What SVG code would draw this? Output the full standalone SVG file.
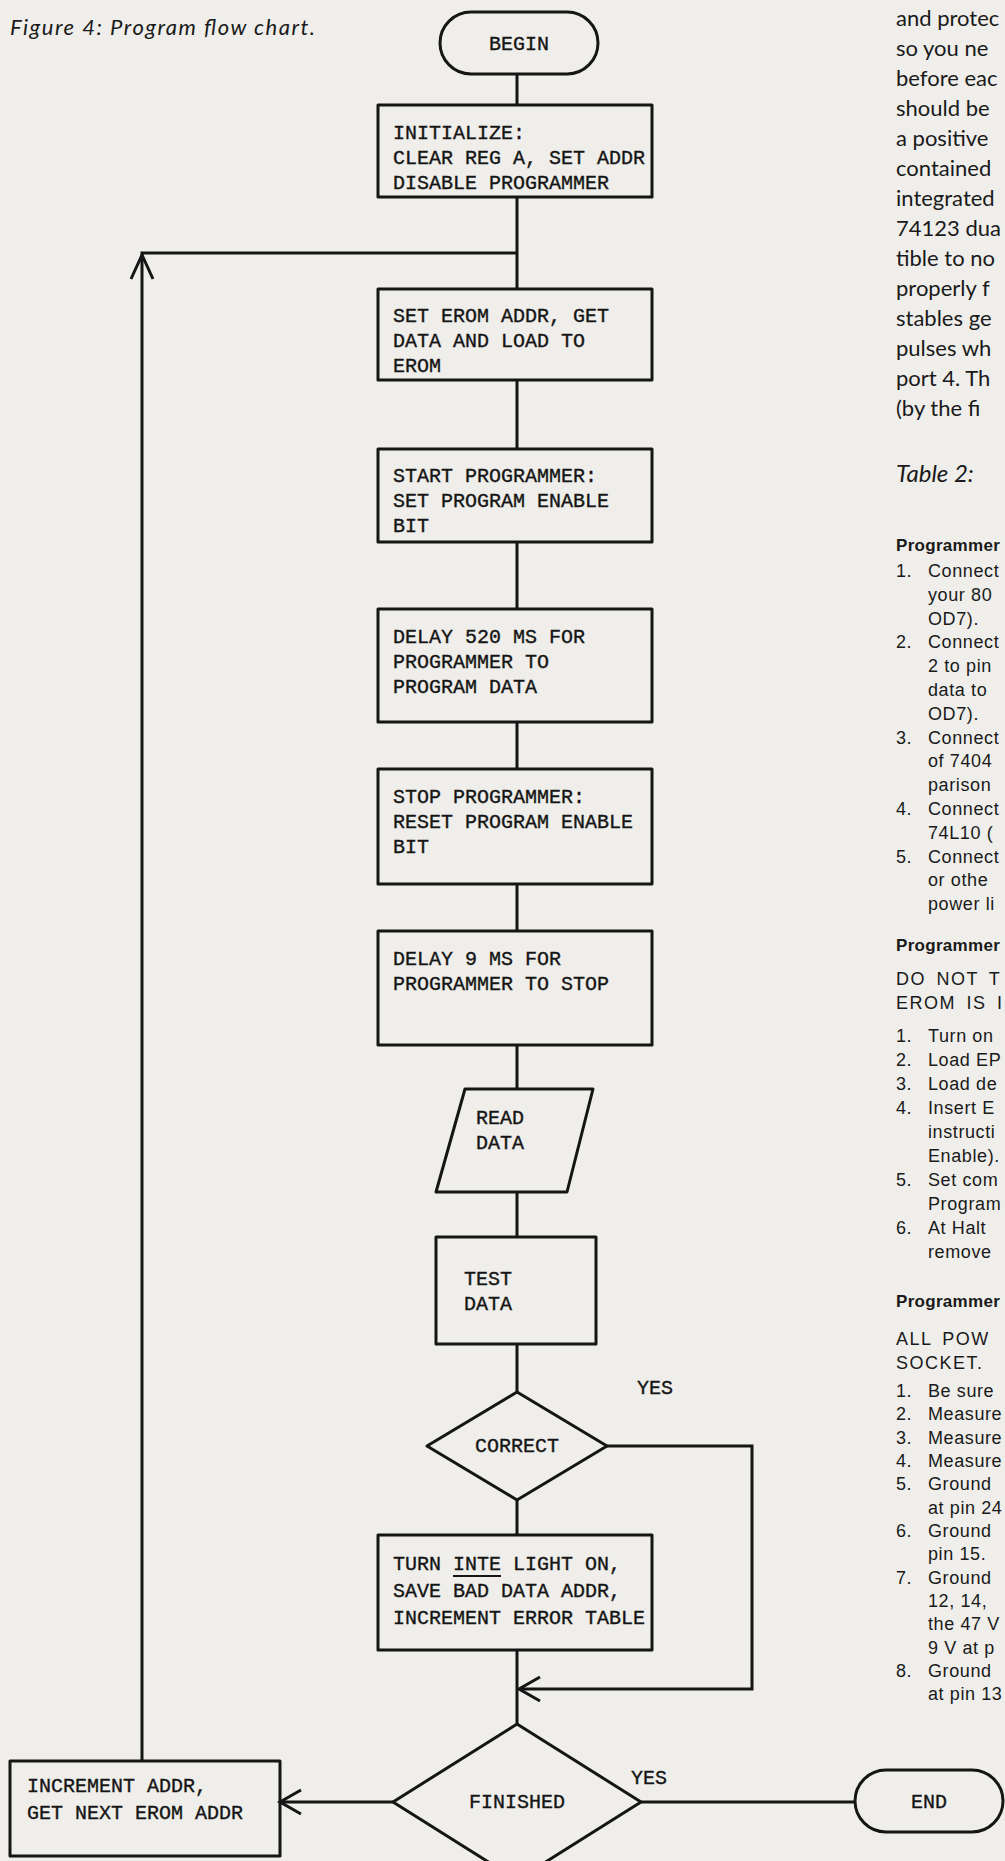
<svg xmlns="http://www.w3.org/2000/svg" width="1005" height="1861" viewBox="0 0 1005 1861">
<style>
.bg{fill:#efeeea}
.shape{fill:none;stroke:#151515;stroke-width:3;stroke-linejoin:round}
.conn{fill:none;stroke:#151515;stroke-width:3}
.arr{fill:none;stroke:#151515;stroke-width:3;stroke-linejoin:miter}
.t{font-family:"Liberation Mono",monospace;font-size:20px;fill:#151515;stroke:#151515;stroke-width:0.35px}
.c{text-anchor:middle}
.cap{font-family:Lato,"Open Sans",sans-serif;font-style:italic;font-size:22px;fill:#1a1a1a}
.para{font-family:Lato,"Open Sans",sans-serif;font-size:22px;fill:#1a1a1a}
.hd{font-family:"Liberation Sans",Arial,sans-serif;font-weight:bold;font-size:17px;fill:#1a1a1a;letter-spacing:0.3px}
.li{font-family:"Liberation Sans",Arial,sans-serif;font-size:18px;fill:#1a1a1a;letter-spacing:0.6px}
.big{font-family:"Liberation Sans",Arial,sans-serif;font-size:18px;fill:#1a1a1a;letter-spacing:1.5px;word-spacing:4px}
</style>
<rect class="bg" x="0" y="0" width="1005" height="1861"/>

<text class="cap" x="10" y="35" textLength="305" lengthAdjust="spacing">Figure 4: Program flow chart.</text>

<g id="connectors">
  <line class="conn" x1="517" y1="74" x2="517" y2="105"/>
  <line class="conn" x1="517" y1="197" x2="517" y2="289"/>
  <polyline class="conn" points="142,1761 142,253 517,253"/>
  <polyline class="arr" points="131,279 142,255 153,279"/>
  <line class="conn" x1="517" y1="380" x2="517" y2="449"/>
  <line class="conn" x1="517" y1="542" x2="517" y2="609"/>
  <line class="conn" x1="517" y1="722" x2="517" y2="769"/>
  <line class="conn" x1="517" y1="884" x2="517" y2="931"/>
  <line class="conn" x1="517" y1="1045" x2="517" y2="1089"/>
  <line class="conn" x1="517" y1="1192" x2="517" y2="1237"/>
  <line class="conn" x1="517" y1="1344" x2="517" y2="1392"/>
  <line class="conn" x1="517" y1="1500" x2="517" y2="1535"/>
  <polyline class="conn" points="607,1446 752,1446 752,1689 519,1689"/>
  <polyline class="arr" points="540,1677 519,1689 540,1701"/>
  <line class="conn" x1="517" y1="1650" x2="517" y2="1724"/>
  <line class="conn" x1="393" y1="1802" x2="280" y2="1802"/>
  <polyline class="arr" points="301,1790 280,1802 301,1814"/>
  <line class="conn" x1="641" y1="1802" x2="855" y2="1802"/>
  <text class="t" x="637" y="1394">YES</text>
  <text class="t" x="631" y="1784">YES</text>
</g>

<g id="begin">
  <rect class="shape" x="440" y="12" width="158" height="62" rx="31"/>
  <text class="t c" x="519" y="50">BEGIN</text>
</g>

<g id="initialize">
  <rect class="shape" x="378" y="105" width="274" height="92"/>
  <text class="t" x="393" y="139">INITIALIZE:</text>
  <text class="t" x="393" y="164">CLEAR REG A, SET ADDR</text>
  <text class="t" x="393" y="189">DISABLE PROGRAMMER</text>
</g>

<g id="set-erom">
  <rect class="shape" x="378" y="289" width="274" height="91"/>
  <text class="t" x="393" y="322">SET EROM ADDR, GET</text>
  <text class="t" x="393" y="347">DATA AND LOAD TO</text>
  <text class="t" x="393" y="372">EROM</text>
</g>

<g id="start-programmer">
  <rect class="shape" x="378" y="449" width="274" height="93"/>
  <text class="t" x="393" y="482">START PROGRAMMER:</text>
  <text class="t" x="393" y="507">SET PROGRAM ENABLE</text>
  <text class="t" x="393" y="532">BIT</text>
</g>

<g id="delay-520">
  <rect class="shape" x="378" y="609" width="274" height="113"/>
  <text class="t" x="393" y="643">DELAY 520 MS FOR</text>
  <text class="t" x="393" y="668">PROGRAMMER TO</text>
  <text class="t" x="393" y="693">PROGRAM DATA</text>
</g>

<g id="stop-programmer">
  <rect class="shape" x="378" y="769" width="274" height="115"/>
  <text class="t" x="393" y="803">STOP PROGRAMMER:</text>
  <text class="t" x="393" y="828">RESET PROGRAM ENABLE</text>
  <text class="t" x="393" y="853">BIT</text>
</g>

<g id="delay-9">
  <rect class="shape" x="378" y="931" width="274" height="114"/>
  <text class="t" x="393" y="965">DELAY 9 MS FOR</text>
  <text class="t" x="393" y="990">PROGRAMMER TO STOP</text>
</g>

<g id="read-data">
  <polygon class="shape" points="465,1089 593,1089 567,1192 436,1192"/>
  <text class="t" x="476" y="1124">READ</text>
  <text class="t" x="476" y="1149">DATA</text>
</g>

<g id="test-data">
  <rect class="shape" x="436" y="1237" width="160" height="107"/>
  <text class="t" x="464" y="1285">TEST</text>
  <text class="t" x="464" y="1310">DATA</text>
</g>

<g id="correct">
  <polygon class="shape" points="517,1392 607,1446 517,1500 427,1446"/>
  <text class="t c" x="517" y="1452">CORRECT</text>
</g>

<g id="turn-inte">
  <rect class="shape" x="378" y="1535" width="274" height="115"/>
  <text class="t" x="393" y="1570">TURN INTE LIGHT ON,</text>
  <line x1="453" y1="1576" x2="501" y2="1576" stroke="#151515" stroke-width="2"/>
  <text class="t" x="393" y="1597">SAVE BAD DATA ADDR,</text>
  <text class="t" x="393" y="1624">INCREMENT ERROR TABLE</text>
</g>

<g id="finished">
  <polygon class="shape" points="517,1724 641,1802 517,1880 393,1802"/>
  <text class="t c" x="517" y="1808">FINISHED</text>
</g>

<g id="increment">
  <rect class="shape" x="10" y="1761" width="270" height="95"/>
  <text class="t" x="27" y="1792">INCREMENT ADDR,</text>
  <text class="t" x="27" y="1819">GET NEXT EROM ADDR</text>
</g>

<g id="end">
  <rect class="shape" x="855" y="1770" width="148" height="62" rx="31"/>
  <text class="t c" x="929" y="1808">END</text>
</g>

<g id="article-text">
  <text class="para" x="896" y="26">and protec</text>
  <text class="para" x="896" y="56">so you ne</text>
  <text class="para" x="896" y="86">before eac</text>
  <text class="para" x="896" y="116">should be</text>
  <text class="para" x="896" y="146">a positive</text>
  <text class="para" x="896" y="176">contained</text>
  <text class="para" x="896" y="206">integrated</text>
  <text class="para" x="896" y="236">74123 dua</text>
  <text class="para" x="896" y="266">tible to no</text>
  <text class="para" x="896" y="296">properly f</text>
  <text class="para" x="896" y="326">stables ge</text>
  <text class="para" x="896" y="356">pulses wh</text>
  <text class="para" x="896" y="386">port 4. Th</text>
  <text class="para" x="896" y="416">(by the fi</text>

  <text class="cap" x="896" y="482" style="font-size:24px">Table 2:</text>

  <text class="hd" x="896" y="551">Programmer</text>
  <text class="li" x="896" y="577">1.</text><text class="li" x="928" y="577">Connect</text>
  <text class="li" x="928" y="601">your 80</text>
  <text class="li" x="928" y="625">OD7).</text>
  <text class="li" x="896" y="648">2.</text><text class="li" x="928" y="648">Connect</text>
  <text class="li" x="928" y="672">2 to pin</text>
  <text class="li" x="928" y="696">data to</text>
  <text class="li" x="928" y="720">OD7).</text>
  <text class="li" x="896" y="744">3.</text><text class="li" x="928" y="744">Connect</text>
  <text class="li" x="928" y="767">of 7404</text>
  <text class="li" x="928" y="791">parison</text>
  <text class="li" x="896" y="815">4.</text><text class="li" x="928" y="815">Connect</text>
  <text class="li" x="928" y="839">74L10 (</text>
  <text class="li" x="896" y="863">5.</text><text class="li" x="928" y="863">Connect</text>
  <text class="li" x="928" y="886">or othe</text>
  <text class="li" x="928" y="910">power li</text>

  <text class="hd" x="896" y="951">Programmer</text>
  <text class="big" x="896" y="985">DO NOT T</text>
  <text class="big" x="896" y="1009">EROM IS I</text>
  <text class="li" x="896" y="1042">1.</text><text class="li" x="928" y="1042">Turn on</text>
  <text class="li" x="896" y="1066">2.</text><text class="li" x="928" y="1066">Load EP</text>
  <text class="li" x="896" y="1090">3.</text><text class="li" x="928" y="1090">Load de</text>
  <text class="li" x="896" y="1114">4.</text><text class="li" x="928" y="1114">Insert E</text>
  <text class="li" x="928" y="1138">instructi</text>
  <text class="li" x="928" y="1162">Enable).</text>
  <text class="li" x="896" y="1186">5.</text><text class="li" x="928" y="1186">Set com</text>
  <text class="li" x="928" y="1210">Program</text>
  <text class="li" x="896" y="1234">6.</text><text class="li" x="928" y="1234">At Halt</text>
  <text class="li" x="928" y="1258">remove</text>

  <text class="hd" x="896" y="1307">Programmer</text>
  <text class="big" x="896" y="1345">ALL POW</text>
  <text class="big" x="896" y="1369">SOCKET.</text>
  <text class="li" x="896" y="1397">1.</text><text class="li" x="928" y="1397">Be sure</text>
  <text class="li" x="896" y="1420">2.</text><text class="li" x="928" y="1420">Measure</text>
  <text class="li" x="896" y="1444">3.</text><text class="li" x="928" y="1444">Measure</text>
  <text class="li" x="896" y="1467">4.</text><text class="li" x="928" y="1467">Measure</text>
  <text class="li" x="896" y="1490">5.</text><text class="li" x="928" y="1490">Ground</text>
  <text class="li" x="928" y="1514">at pin 24</text>
  <text class="li" x="896" y="1537">6.</text><text class="li" x="928" y="1537">Ground</text>
  <text class="li" x="928" y="1560">pin 15.</text>
  <text class="li" x="896" y="1584">7.</text><text class="li" x="928" y="1584">Ground</text>
  <text class="li" x="928" y="1607">12, 14,</text>
  <text class="li" x="928" y="1630">the 47 V</text>
  <text class="li" x="928" y="1654">9 V at p</text>
  <text class="li" x="896" y="1677">8.</text><text class="li" x="928" y="1677">Ground</text>
  <text class="li" x="928" y="1700">at pin 13</text>
</g>
</svg>
